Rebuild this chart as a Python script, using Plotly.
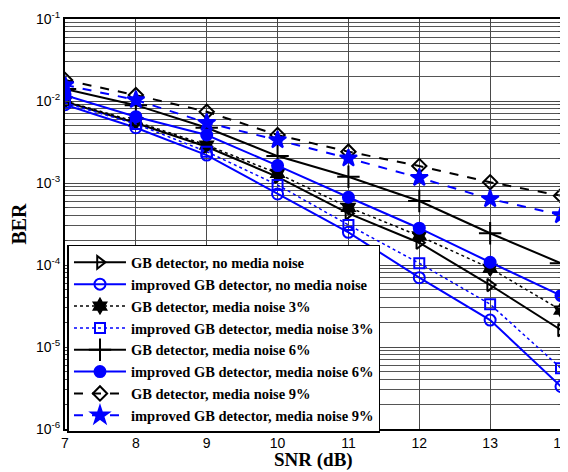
import plotly.graph_objects as go

snr = [7, 8, 9, 10, 11, 12, 13, 14]

gb_no = [0.0098, 0.0054, 0.00277, 0.00119, 0.000426, 0.000187, 0.000057, 0.0000161]
imp_no = [0.0090, 0.00472, 0.00219, 0.000735, 0.00025, 0.00007, 0.0000213, 0.0000033]
gb_3 = [0.0100, 0.0056, 0.0029, 0.00131, 0.000506, 0.000226, 0.0000912, 0.0000282]
imp_3 = [0.0095, 0.00525, 0.00241, 0.000946, 0.000308, 0.000105, 0.0000332, 0.0000055]
gb_6 = [0.014, 0.0089, 0.00472, 0.00213, 0.00119, 0.000603, 0.000244, 0.000105]
imp_6 = [0.0118, 0.00644, 0.00385, 0.00163, 0.00067, 0.000281, 0.000108, 0.0000423]
gb_9 = [0.018, 0.0118, 0.0074, 0.00385, 0.00241, 0.00161, 0.00102, 0.0007]
imp_9 = [0.0157, 0.0103, 0.00543, 0.00334, 0.002, 0.00116, 0.000638, 0.000407]

names = [
    "GB detector, no media noise",
    "improved GB detector, no media noise",
    "GB detector, media noise 3%",
    "improved GB detector, media noise 3%",
    "GB detector, media noise 6%",
    "improved GB detector, media noise 6%",
    "GB detector, media noise 9%",
    "improved GB detector, media noise 9%",
]
series = [gb_no, imp_no, gb_3, imp_3, gb_6, imp_6, gb_9, imp_9]
colors = ["black", "#0000FF"] * 4
dashes = ["solid", "solid", "dot", "dot", "solid", "solid", "dash", "dash"]
widths = [2, 2, 1.5, 1.5, 2, 2, 2, 2]
symbols = ["triangle-right-open", "circle-open", "hexagram", "square-open",
           "cross-thin-open", "circle", "diamond-open", "star"]
msizes = [11, 11, 11, 10, 16, 11, 11, 13]

y_major = [1e-6, 1e-5, 1e-4, 1e-3, 1e-2, 1e-1]
y_major_text = ["10<sup>-6</sup>", "10<sup>-5</sup>", "10<sup>-4</sup>",
                "10<sup>-3</sup>", "10<sup>-2</sup>", "10<sup>-1</sup>"]

SERIF = "Liberation Serif"

fig = go.Figure()
for nm, ys, c, d, w, s, ms in zip(names, series, colors, dashes, widths, symbols, msizes):
    fig.add_trace(go.Scatter(
        x=snr, y=ys, name="<b>" + nm + "</b>", mode="lines+markers",
        line=dict(color=c, dash=d, width=w),
        marker=dict(symbol=s, size=ms, color=c, line=dict(color=c, width=2)),
    ))

minor_vals = []
for e in range(-6, -1):
    for k in range(2, 10):
        minor_vals.append(k * 10 ** e)

# the page adds an 8px body margin, so the figure is 8px smaller each way
fig.update_layout(
    width=560, height=464,
    margin=dict(l=57, r=7, t=11, b=43),
    paper_bgcolor="white", plot_bgcolor="white",
    font=dict(family="Liberation Sans", size=13, color="black"),
    showlegend=True,
    legend=dict(
        x=0.005, y=0.449, xanchor="left", yanchor="top",
        bgcolor="white", bordercolor="black", borderwidth=1.5,
        font=dict(family=SERIF, size=14.5, color="black"),
        itemwidth=52, tracegroupgap=0,
    ),
    xaxis=dict(
        range=[7, 14], tickvals=snr, ticks="inside", ticklen=5, automargin=False,
        ticklabeloverflow="allow",
        showline=True, linecolor="black", linewidth=2, mirror="ticks",
        showgrid=True, gridcolor="#4a4a4a", gridwidth=1, zeroline=False,
        tickfont=dict(size=14),
    ),
    yaxis=dict(
        type="log", range=[-6, -1], tickvals=y_major, ticktext=y_major_text,
        ticks="inside", ticklen=5, automargin=False,
        showline=True, linecolor="black", linewidth=2, mirror="ticks",
        showgrid=True, gridcolor="#4a4a4a", gridwidth=1, zeroline=False,
        tickfont=dict(size=14),
        minor=dict(tickvals=minor_vals, showgrid=True, gridcolor="#555555",
                   gridwidth=1, ticks="inside", ticklen=3),
        title=dict(text="<b>BER</b>", standoff=10,
                   font=dict(family=SERIF, size=20)),
    ),
    annotations=[dict(
        text="<b>SNR (dB)</b>", xref="paper", yref="paper", x=0.5, y=0,
        xanchor="center", yanchor="middle", yshift=-31, showarrow=False,
        font=dict(family=SERIF, size=19, color="black"),
    )],
)

fig.write_html("out.html")
